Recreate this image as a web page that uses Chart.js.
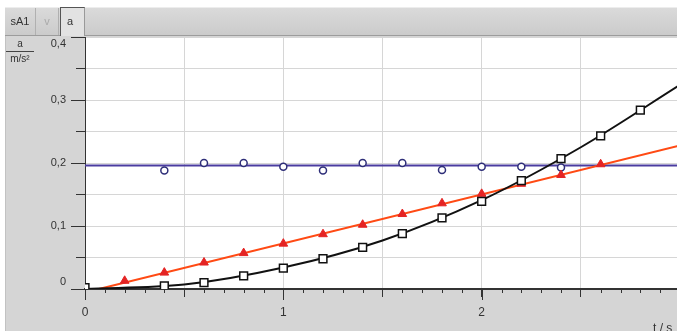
<!DOCTYPE html>
<html>
<head>
<meta charset="utf-8">
<script src="https://cdn.jsdelivr.net/npm/chart.js@4/dist/chart.umd.min.js"></script>
<style>
  html, body { margin: 0; padding: 0; background: #fff; }
  body { width: 677px; height: 331px; overflow: hidden; position: relative; font-family: "Liberation Sans", Arial, sans-serif; color: #333; }
  #panel { position: absolute; left: 5px; top: 36px; width: 672px; height: 295px; background: #d5d5d5; border-left: 1px solid #c2c2c2; }
  #tabbar { position: absolute; left: 5px; top: 7px; width: 672px; height: 27px; background: linear-gradient(#dadada, #cbcbcb); border-top: 1px solid #ededed; border-bottom: 1px solid #9c9c9c; }
  .tab { position: absolute; top: 0; height: 27px; line-height: 27px; font-size: 11px; text-align: center; }
  #tab1 { left: 0; width: 30px; border-right: 1px solid #b0b0b0; }
  #tab2 { left: 31px; width: 22px; color: #aaa; border-right: 1px solid #b0b0b0; }
  #tab3 { left: 55px; top: -1px; width: 25px; height: 29px; background: #e2e2e2; border-left: 1px solid #555; border-top: 1px solid #555; border-right: 1px solid #999; text-align: left; padding-left: 6px; box-sizing: border-box; }
  #unit { position: absolute; left: 6px; top: 38px; width: 28px; font-size: 10px; text-align: center; }
  #unit .num { border-bottom: 1px solid #444; padding-bottom: 2px; }
  #unit .den { padding-top: 1px; }
  #xunit { position: absolute; left: 653px; top: 321px; font-size: 12px; }
  #chart { position: absolute; left: 0; top: 0; }
</style>
</head>
<body>
<div id="panel"></div>
<canvas id="chart" width="700" height="331"></canvas>
<div id="tabbar">
  <div class="tab" id="tab1">sA1</div>
  <div class="tab" id="tab2">v</div>
  <div class="tab" id="tab3">a</div>
</div>
<div id="unit"><div class="num">a</div><div class="den">m/s²</div></div>
<div id="xunit">t / s</div>
<script>
// measured points: open circles (blue)
var circleT = [0.4, 0.6, 0.8, 1.0, 1.2, 1.4, 1.6, 1.8, 2.0, 2.2, 2.4];
var circleA = [0.188, 0.200, 0.200, 0.194, 0.188, 0.200, 0.200, 0.189, 0.194, 0.194, 0.193];

// measured points: red triangles
var triT = [0.2, 0.4, 0.6, 0.8, 1.0, 1.2, 1.4, 1.6, 1.8, 2.0, 2.2, 2.4, 2.6];
var triA = [0.013, 0.026, 0.042, 0.057, 0.072, 0.087, 0.102, 0.119, 0.136, 0.151, 0.167, 0.181, 0.198];

// measured points: black squares
var sqT = [0, 0.4, 0.6, 0.8, 1.0, 1.2, 1.4, 1.6, 1.8, 2.0, 2.2, 2.4, 2.6, 2.8];
var sqA = [0.002, 0.005, 0.010, 0.021, 0.033, 0.048, 0.066, 0.088, 0.113, 0.139, 0.172, 0.207, 0.243, 0.284];

// fitted lines
var constT = [0, 3];
var constA = [0.196, 0.196];
var linT = [0.07, 3];
var linA = [0, 0.228];
var quadT = [0, 0.5, 1, 1.5, 2, 2.5, 3];
var quadA = [0, 0.007, 0.034, 0.077, 0.141, 0.225, 0.324];

// axis ticks
var xMajor = [0, 1, 2, 3];
var yLabelled = [0, 0.1, 0.2, 0.3, 0.4];

var pts = function(xs, ys) {
    return xs.map(function(x, i) { return { x: x, y: ys[i] }; });
};

var axisExtras = {
    id: 'axisExtras',
    beforeDraw: function(chart) {
        var a = chart.chartArea, ctx = chart.ctx;
        ctx.save();
        ctx.fillStyle = '#fff';
        ctx.fillRect(a.left, a.top, a.right - a.left, a.bottom - a.top);
        ctx.restore();
    },
    afterDraw: function(chart) {
        var ctx = chart.ctx, xs = chart.scales.x, ys = chart.scales.y;
        ctx.save();
        ctx.strokeStyle = '#333';
        ctx.lineWidth = 1;
        ctx.beginPath();
        // minor x ticks every 0.1
        for (var i = 1; i <= 30; i++) {
            if (i % 5 === 0) continue;
            var px = Math.round(xs.getPixelForValue(i / 10)) + 0.5;
            ctx.moveTo(px, ys.bottom);
            ctx.lineTo(px, ys.bottom + 4);
        }
        // integer x ticks a bit longer
        xMajor.forEach(function(v) {
            var px = Math.round(xs.getPixelForValue(v)) + 0.5;
            ctx.moveTo(px, ys.bottom);
            ctx.lineTo(px, ys.bottom + 11);
        });
        // labelled y ticks longer
        yLabelled.forEach(function(v) {
            var py = Math.round(ys.getPixelForValue(v)) + 0.5;
            ctx.moveTo(xs.left - 14, py);
            ctx.lineTo(xs.left, py);
        });
        ctx.stroke();
        ctx.restore();
    }
};

var ctx = document.getElementById('chart');
var chart = new Chart(ctx, {
    type: 'scatter',
    data: {
        datasets: [
            { data: pts(sqT, sqA), pointStyle: 'rect', pointRadius: 5.5, borderColor: '#111', backgroundColor: '#fff', borderWidth: 1.5, showLine: false, order: 0 },
            { data: pts(triT, triA), pointStyle: 'triangle', pointRadius: 5, borderColor: '#e42424', backgroundColor: '#e42424', borderWidth: 1, showLine: false, order: 1 },
            { data: pts(circleT, circleA), pointStyle: 'circle', pointRadius: 3.5, borderColor: '#2e2e78', backgroundColor: '#fff', borderWidth: 1.5, showLine: false, order: 2 },
            { data: pts(quadT, quadA), showLine: true, pointRadius: 0, borderColor: '#111', borderWidth: 2, tension: 0.4, cubicInterpolationMode: 'monotone', order: 3 },
            { data: pts(linT, linA), showLine: true, pointRadius: 0, borderColor: '#ff4a14', borderWidth: 2, order: 4 },
            { data: pts(constT, constA), showLine: true, pointRadius: 0, borderColor: '#4a3ca0', borderWidth: 2, order: 5 }
        ]
    },
    options: {
        responsive: false,
        animation: false,
        events: [],
        layout: { padding: { top: 37, right: 20, bottom: 0, left: 0 } },
        plugins: { legend: { display: false }, tooltip: { enabled: false } },
        scales: {
            x: {
                type: 'linear', min: 0, max: 3,
                afterFit: function(s) { s.height = 42; },
                border: { color: '#333', width: 2 },
                grid: {
                    color: function(c) { return c.tick && c.tick.value === 0 ? 'rgba(0,0,0,0)' : '#d6d6d6'; },
                    tickColor: '#333', tickLength: 8
                },
                ticks: {
                    stepSize: 0.5, padding: 8, color: '#333', maxRotation: 0,
                    font: { family: '"Liberation Sans", Arial, sans-serif', size: 12 },
                    callback: function(v) { return xMajor.indexOf(v) >= 0 ? String(v) : ''; }
                }
            },
            y: {
                type: 'linear', min: 0, max: 0.4,
                afterFit: function(s) { s.width = 85; },
                border: { color: '#333', width: 1 },
                grid: {
                    color: function(c) { return c.tick && c.tick.value === 0 ? 'rgba(0,0,0,0)' : '#d6d6d6'; },
                    tickColor: '#333', tickLength: 9
                },
                ticks: {
                    stepSize: 0.05, padding: 10, color: '#333',
                    font: { family: '"Liberation Sans", Arial, sans-serif', size: 11 },
                    callback: function(v) {
                        var k = Math.round(v * 100);
                        if (k % 10 !== 0) return '';
                        if (k === 0) return ['0', ''];
                        var s = (k / 100).toFixed(1).replace('.', ',');
                        return k === 40 ? ['', s] : s;
                    }
                }
            }
        }
    },
    plugins: [axisExtras]
});
</script>
</body>
</html>
